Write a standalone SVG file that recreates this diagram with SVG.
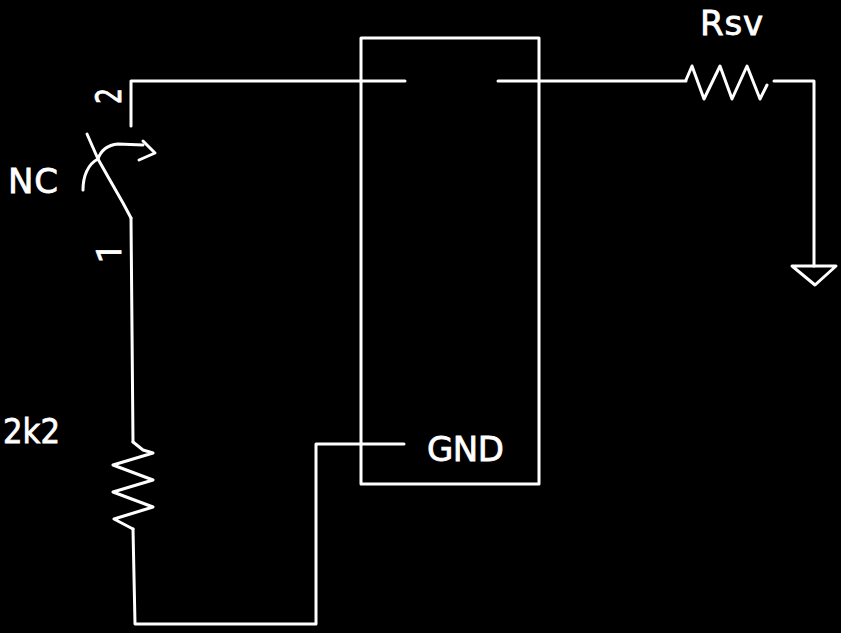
<svg xmlns="http://www.w3.org/2000/svg" width="841" height="633" viewBox="0 0 841 633">
<style>
.w{fill:none;stroke:#fff;stroke-width:3;stroke-linejoin:round;stroke-linecap:round}
.t{fill:#fff;stroke:#fff;stroke-width:.8;font-family:"DejaVu Sans",sans-serif;font-size:34px}
.o{font-family:Roboto,sans-serif}
</style>
<rect width="841" height="633" fill="#000"/>
<g id="ic"><rect class="w" x="361" y="38" width="178" height="446"/><text class="t" x="427" y="461" textLength="77" lengthAdjust="spacing">GND</text></g>
<g id="switch">
<path class="w" d="M87 134L98 159L107 175L123 203L131 218"/>
<path class="w" d="M83 190C83 176 88 164 98 159C101 150 108 145 118 144L143 145"/>
<path class="w" d="M143 141L155 153L139 160"/>
<text class="t" x="8" y="193" textLength="50" lengthAdjust="spacing">NC</text>
<text class="t" transform="translate(121,104) rotate(-90)" style="font-size:36px" textLength="16" lengthAdjust="spacingAndGlyphs">2</text>
<text class="t o" transform="translate(121,263) rotate(-90)" style="font-size:35px">1</text>
</g>
<g id="r2k2">
<path class="w" d="M133 442L143 450L153 453L113 465L153 480L113 492L153 507L114 519L133 529"/>
<text class="t" x="3" y="443" textLength="57" lengthAdjust="spacingAndGlyphs">2k2</text>
</g>
<g id="rsv">
<path class="w" d="M686 80L692 66L704 99L720 66L732 99L747 66L760 99L767 85"/>
<text class="t" x="700" y="35" textLength="63" lengthAdjust="spacing">Rsv</text>
</g>
<g id="ground"><path class="w" d="M792 266H836L815 285Z"/></g>
<g id="connectors">
<path class="w" d="M131 126V81H405"/>
<path class="w" d="M498 81H686"/>
<path class="w" d="M774 81H814V266"/>
<path class="w" d="M131 218L133 442"/>
<path class="w" d="M133 529L135 624H316V444H404"/>
</g>
</svg>
